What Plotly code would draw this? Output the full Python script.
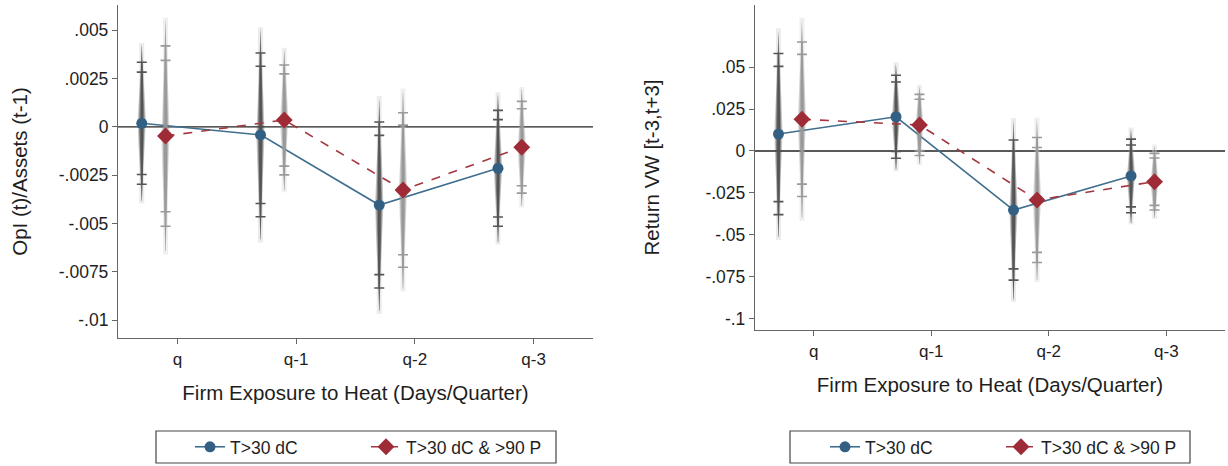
import numpy as np
import plotly.graph_objects as go

# ---------------- data ----------------
categories = ["q", "q-1", "q-2", "q-3"]

# Left panel: OpI (t)/Assets (t-1)
opi_heat = [0.00019, -0.00041, -0.00404, -0.00214]
opi_heat_se = [0.00161, 0.00216, 0.00219, 0.00153]
opi_heat90 = [-0.00047, 0.00036, -0.00326, -0.00105]
opi_heat90_se = [0.00238, 0.00145, 0.00204, 0.00121]

# Right panel: Return VW [t-3,t+3]
ret_heat = [0.0101, 0.0204, -0.0352, -0.0149]
ret_heat_se = [0.0245, 0.0126, 0.0213, 0.0112]
ret_heat90 = [0.0189, 0.0155, -0.0292, -0.0183]
ret_heat90_se = [0.0235, 0.0093, 0.0190, 0.0086]

left_ticks = [0.005, 0.0025, 0, -0.0025, -0.005, -0.0075, -0.01]
left_ticktext = [".005", ".0025", "0", "-.0025", "-.005", "-.0075", "-.01"]
right_ticks = [0.05, 0.025, 0, -0.025, -0.05, -0.075, -0.1]
right_ticktext = [".05", ".025", "0", "-.025", "-.05", "-.075", "-.1"]

series_names = ["T>30 dC", "T>30 dC &amp; >90 P"]

# ---------------- styles ----------------
FONT = "Liberation Sans, Arial, sans-serif"
TXT = "#1e1e1e"
BLUE = "#3f6e8f"
BLUE_MK = "#325f82"
RED = "#a3363f"
RED_MK = "#9e2b35"
Z95, Z90, Z99 = 1.96, 1.645, 2.576

fig = go.Figure()


def add_series(est, se, offset, xa, ya, name, lcolor, mcolor, symbol, msize,
               dash, ci_color, spin_rgb, faint_rgba, legend):
    est = np.asarray(est, float)
    se = np.asarray(se, float)
    xs = np.arange(1, len(est) + 1) + offset

    # faint 99% line
    fx, fy = [], []
    for x, e, s in zip(xs, est, se):
        fx += [x, x, None]
        fy += [e - Z99 * s, e + Z99 * s, None]
    fig.add_trace(go.Scatter(x=fx, y=fy, mode="lines", xaxis=xa, yaxis=ya,
                             line=dict(color=faint_rgba, width=5),
                             hoverinfo="skip", showlegend=False))

    # spindle (normal-density shaped) layers
    z = np.linspace(-2.5, 2.5, 61)
    for wscale, alpha in [(1.0, 0.28), (0.68, 0.4), (0.4, 0.55)]:
        px, py = [], []
        for x, e, s in zip(xs, est, se):
            hw = 0.034 * wscale * np.exp(-z ** 2 / 2.2)
            px += list(x + hw) + list(x - hw[::-1]) + [None]
            py += list(e + z * s) + list(e + z[::-1] * s) + [None]
        fig.add_trace(go.Scatter(x=px, y=py, mode="lines", fill="toself",
                                 fillcolor=f"rgba({spin_rgb},{alpha})",
                                 line=dict(width=0), xaxis=xa, yaxis=ya,
                                 hoverinfo="skip", showlegend=False))

    # 95% and 90% caps
    for zz in (Z95, Z90):
        fig.add_trace(go.Scatter(
            x=xs, y=est, mode="markers", xaxis=xa, yaxis=ya,
            marker=dict(size=1, opacity=0),
            error_y=dict(type="data", array=zz * se, symmetric=True,
                         color=ci_color, thickness=1.6, width=5),
            hoverinfo="skip", showlegend=False))

    # point estimates connected
    fig.add_trace(go.Scatter(
        x=xs, y=est, mode="lines+markers", xaxis=xa, yaxis=ya, name=name,
        line=dict(color=lcolor, width=1.6, dash=dash),
        marker=dict(color=mcolor, symbol=symbol, size=msize),
        legend=legend, showlegend=True))


for (a, a_se, b, b_se, xa, ya, lg) in [
        (opi_heat, opi_heat_se, opi_heat90, opi_heat90_se, "x", "y", "legend"),
        (ret_heat, ret_heat_se, ret_heat90, ret_heat90_se, "x2", "y2", "legend2")]:
    add_series(a, a_se, -0.3, xa, ya, series_names[0], BLUE, BLUE_MK, "circle", 11,
               "solid", "#555555", "45,45,45", "rgba(200,200,200,0.35)", lg)
    add_series(b, b_se, -0.1, xa, ya, series_names[1], RED, RED_MK, "diamond", 13,
               "dash", "#9a9a9a", "125,125,125", "rgba(215,215,215,0.4)", lg)

axis_common = dict(showline=True, linecolor="#666666", linewidth=1.3,
                   ticks="outside", ticklen=5, tickcolor="#666666", tickwidth=1.2,
                   showgrid=False, zeroline=False, automargin=False,
                   tickfont=dict(family=FONT, size=17.5, color=TXT))

xaxis_common = dict(axis_common, range=[0.5, 4.5], tickvals=[1, 2, 3, 4],
                    ticktext=categories,
                    tickfont=dict(family=FONT, size=17, color=TXT),
                    title=dict(text="Firm Exposure to Heat (Days/Quarter)",
                               font=dict(family=FONT, size=20.5, color=TXT),
                               standoff=18))

legend_common = dict(orientation="h", yanchor="middle", y=-0.327,
                     xanchor="left", borderwidth=0, bgcolor="rgba(0,0,0,0)",
                     font=dict(family=FONT, size=17.5, color=TXT),
                     entrywidth=131, entrywidthmode="pixels")

fig.update_layout(
    width=1228, height=466,
    margin=dict(l=0, r=0, t=5, b=128, autoexpand=False),
    paper_bgcolor="white", plot_bgcolor="white",
    font=dict(family=FONT, color=TXT),
    xaxis=dict(xaxis_common, domain=[0.0961, 0.4829], anchor="y"),
    xaxis2=dict(xaxis_common, domain=[0.6148, 0.9976], anchor="y2"),
    yaxis=dict(axis_common, domain=[0, 1], anchor="x",
               range=[-0.01092, 0.00631], tickvals=left_ticks,
               ticktext=left_ticktext,
               title=dict(text="OpI (t)/Assets (t-1)",
                          font=dict(family=FONT, size=20.5, color=TXT),
                          standoff=25)),
    yaxis2=dict(axis_common, domain=[0.024, 1], anchor="x2",
                range=[-0.1067, 0.087], tickvals=right_ticks,
                ticktext=right_ticktext,
                title=dict(text="Return VW [t-3,t+3]",
                           font=dict(family=FONT, size=20.5, color=TXT),
                           standoff=40)),
    legend=dict(legend_common, x=190 / 1228),
    legend2=dict(legend_common, x=825 / 1228),
    shapes=[
        dict(type="line", xref="x domain", yref="y", x0=0, x1=1, y0=0, y1=0,
             line=dict(color="#222222", width=1.3), layer="below"),
        dict(type="line", xref="x2 domain", yref="y2", x0=0, x1=1, y0=0, y1=0,
             line=dict(color="#222222", width=1.3), layer="below"),
        # legend frames
        dict(type="rect", xref="paper", yref="paper",
             x0=156 / 1228, x1=556 / 1228, y0=-(431 - 338) / 333, y1=-(463 - 338) / 333,
             line=dict(color="#444444", width=1.2), fillcolor="rgba(0,0,0,0)"),
        dict(type="rect", xref="paper", yref="paper",
             x0=790 / 1228, x1=1190 / 1228, y0=-(431 - 338) / 333, y1=-(463 - 338) / 333,
             line=dict(color="#444444", width=1.2), fillcolor="rgba(0,0,0,0)"),
    ],
)

fig.write_html("out.html",
               config={"displayModeBar": False},
               post_script="document.body.style.margin='0';"
                           "document.body.style.padding='0';")
